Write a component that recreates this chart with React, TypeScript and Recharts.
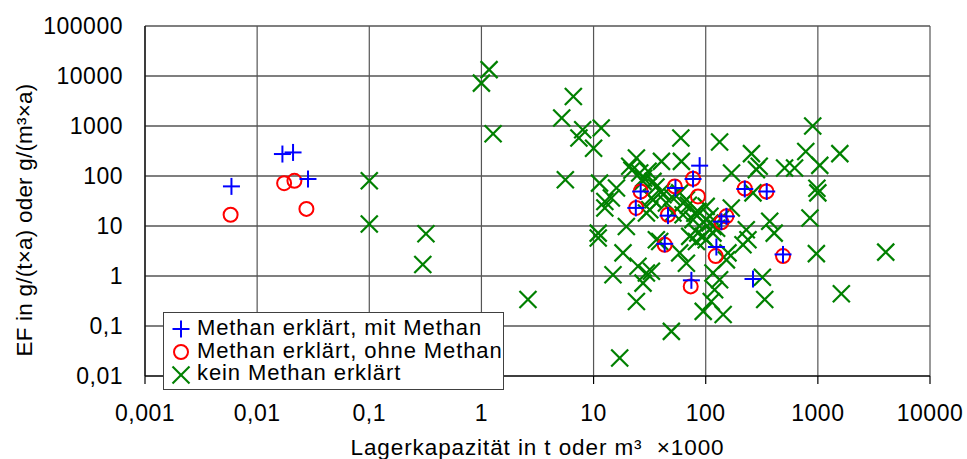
import {
  CartesianGrid,
  Legend,
  Scatter,
  ScatterChart,
  XAxis,
  YAxis,
} from "recharts";

const xTicks = [0.001, 0.01, 0.1, 1, 10, 100, 1000, 10000];
const yTicks = [0.01, 0.1, 1, 10, 100, 1000, 10000, 100000];

// [Lagerkapazität, EF]
const mitMethan: [number, number][] = [
  [0.0059, 62], [0.0168, 275], [0.0209, 296], [0.0284, 87],
  [26.3, 49], [23.8, 23], [53.7, 57.5], [46.1, 16.1], [77.1, 87],
  [88.3, 161], [223, 55], [350, 49], [153, 15.6], [138, 12.2],
  [43.1, 4.4], [124.5, 3.8], [489, 2.7], [74.5, 0.82], [264, 0.87],
];

const ohneMethan: [number, number][] = [
  [0.0058, 16.8], [0.0174, 72], [0.0215, 80], [0.0275, 22],
  [26.3, 49], [24, 23], [53, 62], [46.1, 16.8], [77.1, 88],
  [85.3, 39], [223, 56], [348, 49], [153, 15.6], [138, 11.9],
  [43.1, 4.2], [122.8, 2.5], [489, 2.5], [73.5, 0.62],
];

const keinMethan: [number, number][] = [
  [0.1, 80], [0.1, 11], [0.32, 7], [0.3, 1.7], [1.0, 7200], [1.17, 13400],
  [1.27, 700], [2.6, 0.34], [6.6, 3900], [5.2, 1450], [8.0, 840], [7.4, 575],
  [11.7, 910], [10, 360], [5.6, 84], [60, 575], [133, 480], [900, 1000],
  [1570, 280], [780, 310], [1040, 163], [620, 145], [505, 145], [300, 156],
  [256, 280], [283, 134], [170, 115], [980, 57], [1000, 46], [850, 14.5],
  [970, 2.8], [4030, 3.0], [1620, 0.44], [336, 0.34], [320, 0.94], [372, 12.4],
  [408, 7.2], [230, 8.4], [238, 5.3], [264, 46], [169, 23], [101, 24.7],
  [109, 15.6], [116, 9.8], [94.6, 6.2], [153, 2.1], [133, 0.84], [120, 0.53],
  [112, 0.31], [143, 0.17], [95, 0.196], [215, 4.2], [158, 2.9], [116, 1.15],
  [58.6, 2.9], [67.3, 1.8], [49.4, 0.078], [17.1, 0.023], [11.0, 5.75], [18.3, 2.9],
  [14.9, 1.06], [24.9, 1.56], [29.6, 1.15], [27.6, 0.72], [24.1, 0.31], [32.8, 1.24],
  [82.6, 4.9], [38.9, 4.9], [19.6, 9.8], [12.6, 22.9], [11.3, 72], [16, 57.5],
  [29.6, 18.2], [32.8, 36.3], [41.6, 42.3], [62.8, 28.8], [85.3, 19.6], [109, 11.5],
  [101, 5.3], [72, 6.2], [36.3, 5.3], [25.8, 115], [21, 156], [27.6, 78],
  [24.1, 229], [40.3, 196], [60.7, 196], [30.6, 124], [12.6, 31], [14.4, 36.3],
  [11, 7.2], [33.9, 78], [40.3, 49], [58.6, 46], [67.3, 33.6], [44.6, 28.8],
  [31.7, 21.2], [62.8, 16.8], [33.9, 33.6], [51, 18.2], [77, 13.4], [116, 7.2],
  [85, 7.2], [22, 130], [28, 90], [36, 60], [50, 38], [70, 26], [80, 18],
  [95, 12], [125, 9],
];

const seriesNames = [
  "Methan erklärt, mit Methan",
  "Methan erklärt, ohne Methan",
  "kein Methan erklärt",
];

const toPoints = (list: [number, number][]) => list.map(([x, y]) => ({ x, y }));
const fmt = (v: number) => String(v).replace(".", ",");

const BLUE = "#0000ff";
const RED = "#ff0000";
const GREEN = "#008000";
const FONT = '"Liberation Sans", Arial, sans-serif';

function PlusMark({ cx, cy }: { cx: number; cy: number }) {
  return (
    <g stroke={BLUE} strokeWidth={2}>
      <line x1={cx - 8.5} y1={cy} x2={cx + 8.5} y2={cy} />
      <line x1={cx} y1={cy - 8.5} x2={cx} y2={cy + 8.5} />
    </g>
  );
}

function CircleMark({ cx, cy }: { cx: number; cy: number }) {
  return <circle cx={cx} cy={cy} r={7} fill="none" stroke={RED} strokeWidth={2} />;
}

function CrossMark({ cx, cy }: { cx: number; cy: number }) {
  return (
    <g stroke={GREEN} strokeWidth={2.2}>
      <line x1={cx - 8.5} y1={cy - 8.5} x2={cx + 8.5} y2={cy + 8.5} />
      <line x1={cx - 8.5} y1={cy + 8.5} x2={cx + 8.5} y2={cy - 8.5} />
    </g>
  );
}

const markers = [PlusMark, CircleMark, CrossMark];

function LegendBox() {
  return (
    <div
      style={{
        boxSizing: "border-box",
        width: 341,
        height: 78,
        border: "1px solid #404040",
        background: "#fff",
        padding: "4px 0 0 6px",
        fontFamily: FONT,
        fontSize: 22,
        letterSpacing: 0.9,
        lineHeight: "22.7px",
        color: "#000",
      }}
    >
      {seriesNames.map((name, i) => {
        const Mark = markers[i];
        return (
          <div key={name} style={{ display: "flex", alignItems: "center", whiteSpace: "nowrap" }}>
            <svg width={24} height={22} style={{ marginRight: 3 }}>
              <Mark cx={11} cy={12} />
            </svg>
            {name}
          </div>
        );
      })}
    </div>
  );
}

export default function App() {
  return (
    <div style={{ position: "absolute", left: 0, top: 0, fontFamily: FONT, background: "#fff" }}>
      <ScatterChart width={967} height={459} margin={{ top: 26, right: 37, bottom: 0, left: 0 }}>
        <CartesianGrid horizontal vertical={false} stroke="#000" strokeWidth={1.2} />
        <CartesianGrid horizontal={false} vertical stroke="#555" strokeWidth={1.2} />
        <XAxis
          type="number"
          dataKey="x"
          scale="log"
          domain={[0.001, 10000]}
          ticks={xTicks}
          allowDataOverflow
          height={83}
          tickFormatter={fmt}
          tickSize={8}
          tickMargin={21}
          tick={{ fontSize: 23, fill: "#000", letterSpacing: 0.5 }}
          axisLine={{ stroke: "#000", strokeWidth: 1.2 }}
          tickLine={{ stroke: "#000", strokeWidth: 1.2 }}
          label={{
            value: "Lagerkapazität in t oder m³\u00a0 ×1000",
            position: "insideBottom",
            offset: 4,
            fontSize: 22.5,
            letterSpacing: 0.9,
            fill: "#000",
          }}
        />
        <YAxis
          type="number"
          dataKey="y"
          scale="log"
          domain={[0.01, 100000]}
          ticks={yTicks}
          allowDataOverflow
          width={145}
          tickFormatter={fmt}
          tickSize={0}
          tickMargin={22}
          tickLine={false}
          tick={{ fontSize: 23, fill: "#000", letterSpacing: 0.5 }}
          axisLine={{ stroke: "#000", strokeWidth: 1.2 }}
          label={{
            content: () => (
              <text
                transform="translate(24,220) rotate(-90)"
                textAnchor="middle"
                dominantBaseline="central"
                fontSize={22.5}
                letterSpacing={0.2}
                fill="#000"
              >
                EF in g/(t×a) oder g/(m³×a)
              </text>
            ),
          }}
        />
        <Legend
          align="center"
          verticalAlign="middle"
          wrapperStyle={{ left: 163, top: 312, width: 341, height: 78 }}
          content={() => <LegendBox />}
        />
        <Scatter
          name={seriesNames[2]}
          data={toPoints(keinMethan)}
          shape={(p: any) => <CrossMark cx={p.cx} cy={p.cy} />}
          isAnimationActive={false}
        />
        <Scatter
          name={seriesNames[1]}
          data={toPoints(ohneMethan)}
          shape={(p: any) => <CircleMark cx={p.cx} cy={p.cy} />}
          isAnimationActive={false}
        />
        <Scatter
          name={seriesNames[0]}
          data={toPoints(mitMethan)}
          shape={(p: any) => <PlusMark cx={p.cx} cy={p.cy} />}
          isAnimationActive={false}
        />
      </ScatterChart>
    </div>
  );
}
